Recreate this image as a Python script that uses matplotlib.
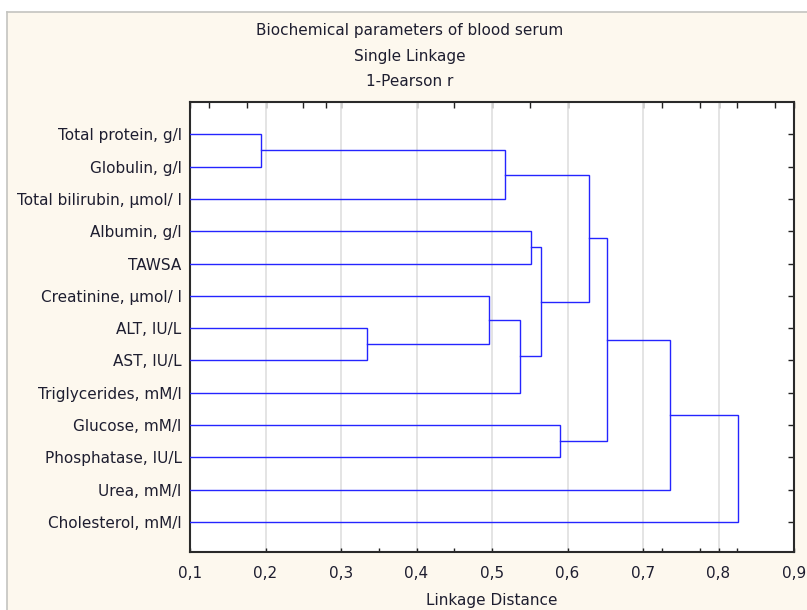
import matplotlib
matplotlib.use("Agg")
import matplotlib.pyplot as plt
from matplotlib.patches import Rectangle
from matplotlib.lines import Line2D

# Leaf order as drawn top to bottom
labels = [
    "Total protein, g/l",
    "Globulin, g/l",
    "Total bilirubin, µmol/ l",
    "Albumin, g/l",
    "TAWSA",
    "Creatinine, µmol/ l",
    "ALT, IU/L",
    "AST, IU/L",
    "Triglycerides, mM/l",
    "Glucose, mM/l",
    "Phosphatase, IU/L",
    "Urea, mM/l",
    "Cholesterol, mM/l",
]

# Joins: (left child, right child, linkage distance); ids >= 13 are earlier joins
merges = [
    (0, 1, 0.194),
    (6, 7, 0.335),
    (5, 14, 0.496),
    (13, 2, 0.517),
    (15, 8, 0.537),
    (3, 4, 0.551),
    (18, 17, 0.565),
    (9, 10, 0.590),
    (16, 19, 0.628),
    (21, 20, 0.652),
    (22, 11, 0.736),
    (23, 12, 0.826),
]

xticks = [0.1, 0.2, 0.3, 0.4, 0.5, 0.6, 0.7, 0.8, 0.9]
xtick_labels = ["0,1", "0,2", "0,3", "0,4", "0,5", "0,6", "0,7", "0,8", "0,9"]
bottom_minor = [0.35, 0.45, 0.725, 0.775, 0.825]
top_minor = [0.125, 0.175, 0.25, 0.28, 0.45, 0.55, 0.725, 0.775, 0.825, 0.875]

title_lines = ["Biochemical parameters of blood serum", "Single Linkage", "1-Pearson r"]

plt.rcParams['font.family'] = ['DejaVu Sans']
text_color = '#1e1e30'
cream = '#fdf8ee'

fig = plt.figure(figsize=(8.07, 6.10), dpi=100)
fig.patch.set_facecolor('white')

# cream panel with a grey frame on top and left
W, H = 807, 610
fig.add_artist(Rectangle((7 / W, 0), 1, 1 - 12 / H, transform=fig.transFigure,
                         facecolor=cream, edgecolor='none', zorder=0))
fig.add_artist(Line2D([7 / W, 1], [1 - 12 / H, 1 - 12 / H], transform=fig.transFigure,
                      color='#c4c4c0', lw=1.2, zorder=1))
fig.add_artist(Line2D([7 / W, 7 / W], [0, 1 - 12 / H], transform=fig.transFigure,
                      color='#c4c4c0', lw=1.2, zorder=1))

ax = fig.add_axes([190 / W, 1 - 552 / H, (794 - 190) / W, (552 - 102) / H])
ax.set_facecolor('white')

n = len(labels)
ypos = {i: i + 1 for i in range(n)}
xpos = {i: 0.0 for i in range(n)}

for k, (a, b, h) in enumerate(merges):
    cid = n + k
    ax.plot([xpos[a], h, h, xpos[b]], [ypos[a], ypos[a], ypos[b], ypos[b]],
            color='#2424ff', lw=1.0, solid_joinstyle='miter', zorder=3)
    ypos[cid] = (ypos[a] + ypos[b]) / 2
    xpos[cid] = h

ax.set_xlim(0.1, 0.9)
ax.set_ylim(n + 0.93, 0)

ax.set_xticks(xticks)
ax.set_xticklabels(xtick_labels, fontsize=11, color=text_color)
ax.set_xticks(bottom_minor, minor=True)
ax.xaxis.grid(True, which='major', color='#e2e2e2', lw=1.3, zorder=0)
ax.tick_params(axis='x', which='both', direction='in', length=3, width=1,
               pad=10, colors='#222222', labelcolor=text_color)

ax.set_yticks([i + 1 for i in range(n)])
ax.set_yticklabels(labels, fontsize=11, color=text_color)
ax.tick_params(axis='y', which='both', left=False, right=True, direction='in',
               length=4, width=1, pad=6, colors='#222222', labelcolor=text_color)

# ticks along the top edge
top = ax.secondary_xaxis('top')
top.set_xticks(xticks)
top.set_xticks(top_minor, minor=True)
top.set_xticklabels([])
top.tick_params(axis='x', which='both', direction='in', length=4, width=1, colors='#222222')
top.spines['top'].set_visible(False)

for s in ax.spines.values():
    s.set_color('#2a2a2a')
    s.set_linewidth(1.5)

ax.set_xlabel("Linkage Distance", fontsize=11, color=text_color, labelpad=9)

for i, line in enumerate(title_lines):
    fig.text(410 / W, 1 - (31 + 25.5 * i) / H, line, ha='center', va='center',
             fontsize=11, color=text_color)

fig.savefig("out.png", dpi=100, facecolor=fig.get_facecolor())
